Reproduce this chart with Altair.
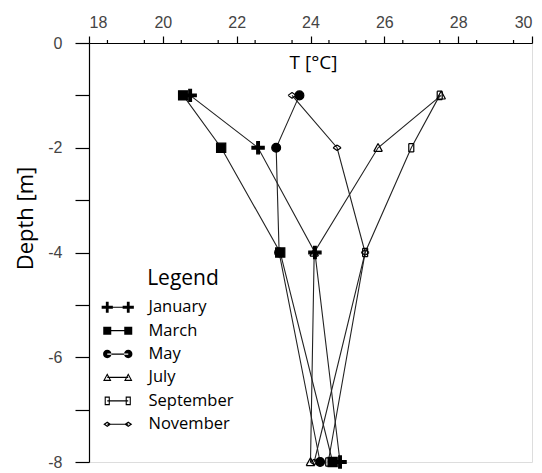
import altair as alt
import pandas as pd

# ---------------- data ----------------
months = ["January", "March", "May", "July", "September", "November"]
depths = [-1, -2, -4, -8]
jan = [20.74, 22.58, 24.12, 24.80]
mar = [20.55, 21.58, 23.18, 24.60]
may = [23.70, 23.07, 23.15, 24.26]
jul = [27.54, 25.83, 24.10, 24.00]
sep = [27.50, 26.73, 25.48, 24.48]
nov = [23.50, 24.72, 25.48, 24.10]

x_major = list(range(18, 31))
x_minor = [18.5, 19.5, 20.5, 21.5, 22.5, 23.5, 24.5, 25.5, 26.5, 27.5, 28.5, 29.5]
y_major = [0, -1, -2, -3, -4, -5, -6, -7, -8]

rows = []
for m, vals in zip(months, [jan, mar, may, jul, sep, nov]):
    for d, t in zip(depths, vals):
        rows.append({"month": m, "depth": d, "temp": t})
df = pd.DataFrame(rows)
minor_df = pd.DataFrame({"v": x_minor})


# ---------------- marker glyph paths ----------------
def f(v):
    return f"{v:.3f}"


def closed(pts):
    return "M" + "L".join(f"{f(x)},{f(y)}" for x, y in pts) + "Z"


def segs(pts):
    out = []
    n = len(pts)
    for i in range(n):
        a, b = pts[i], pts[(i + 1) % n]
        out.append(f"M{f(a[0])},{f(a[1])}L{f(b[0])},{f(b[1])}")
    return "".join(out)


def shrink(pts, cx, cy, k):
    return [(cx + (x - cx) * k, cy + (y - cy) * k) for x, y in pts]


def ring(pts, cx, cy, k):
    # outer contour + reversed inner contour -> hollow shape with fill only
    inner = shrink(pts, cx, cy, k)[::-1]
    return closed(pts) + closed(inner)


def plus_pts(cx, h, t):
    pts = [(-h, -t), (-t, -t), (-t, -h), (t, -h), (t, -t), (h, -t), (h, t), (t, t), (t, h), (-t, h), (-t, t), (-h, t)]
    return [(cx + x, y) for x, y in pts]


def circle(cx, h):
    return (f"M{f(cx - h)},0A{f(h)},{f(h)},0,1,0,{f(cx + h)},0"
            f"A{f(h)},{f(h)},0,1,0,{f(cx - h)},0Z")


def tri_pts(cx, h):
    return [(cx, -h), (cx + h, h * 0.85), (cx - h, h * 0.85)]


def rect_pts(cx, h):
    w = h * 0.6
    return [(cx - w, -h), (cx + w, -h), (cx + w, h), (cx - w, h)]


def dia_pts(cx, h):
    return [(cx - h, 0), (cx, -h * 0.7), (cx + h, 0), (cx, h * 0.7)]


def plot_marker(kind):
    # unit box (-1..1), open shapes drawn by stroke only
    if kind == "plus":
        return closed(plus_pts(0, 1.0, 0.22))
    if kind == "square":
        return closed([(-0.75, -0.75), (0.75, -0.75), (0.75, 0.75), (-0.75, 0.75)])
    if kind == "circle":
        return circle(0, 0.72)
    if kind == "triangle":
        return segs(tri_pts(0, 0.7))
    if kind == "rect":
        return segs(rect_pts(0, 0.68))
    return segs(dia_pts(0, 0.65))


def legend_marker(kind, cx):
    # pixel units, filled polygons only (hollow via inner contour)
    if kind == "plus":
        return closed(plus_pts(cx, 5.6, 1.4))
    if kind == "square":
        h = 4.0
        return closed([(cx - h, -h), (cx + h, -h), (cx + h, h), (cx - h, h)])
    if kind == "circle":
        return circle(cx, 4.2)
    if kind == "triangle":
        h = 4.2
        return ring(tri_pts(cx, h), cx, 0.233 * h, 0.55)
    if kind == "rect":
        h = 4.3
        w = h * 0.6
        t = 1.1
        outer = [(cx - w, -h), (cx + w, -h), (cx + w, h), (cx - w, h)]
        inner = [(cx - w + t, -h + t), (cx + w - t, -h + t), (cx + w - t, h - t), (cx - w + t, h - t)][::-1]
        return closed(outer) + closed(inner)
    h = 4.0
    return ring(dia_pts(cx, h), cx, 0, 0.45)


kinds = ["plus", "square", "circle", "triangle", "rect", "diamond"]
plot_paths = [plot_marker(k) for k in kinds]

SYM_CENTER = 142.0  # where Vega puts the legend symbol centre (abs px)
GLYPH_CENTER = 119.5


def legend_glyph(kind):
    c = GLYPH_CENTER - SYM_CENTER
    l, r = c - 10.5, c + 10.5
    line = closed([(l, -0.6), (r, -0.6), (r, 0.6), (l, 0.6)])
    return line + legend_marker(kind, l) + legend_marker(kind, r)


legend_paths = [legend_glyph(k) for k in kinds]

# ---------------- chart ----------------
FONT_TICK = "Liberation Sans"
FONT_TXT = "Open Sans"

x_scale = alt.Scale(domain=[18, 30], nice=False, zero=False)
y_scale = alt.Scale(domain=[-8, 0], nice=False, zero=False)

x_axis = alt.Axis(
    orient="top", values=x_major, tickSize=7, tickColor="black", tickWidth=1.2,
    domainColor="black", domainWidth=1.2, grid=False,
    labelExpr="datum.value % 2 == 0 ? datum.label : ''",
    labelFont=FONT_TICK, labelFontSize=16, labelColor="#444", labelPadding=6,
    title="T [°C]", titleFont=FONT_TXT, titleFontSize=19, titleFontWeight="normal",
    titleColor="black", titleX=224, titleY=19, titleBaseline="middle",
)
y_axis = alt.Axis(
    values=y_major, tickSize=14, tickColor="black", tickWidth=1.2,
    domainColor="black", domainWidth=1.2, grid=False,
    labelExpr="datum.value % 2 == 0 ? (datum.value < 0 ? '-' + abs(datum.value) : '' + datum.value) : ''",
    labelFont=FONT_TICK, labelFontSize=16, labelColor="#444", labelPadding=13,
    title="Depth [m]", titleFont=FONT_TXT, titleFontSize=22, titleFontWeight="normal",
    titleColor="black", titleX=-64, titleY=175, titleAngle=270,
    titleAlign="center", titleBaseline="middle",
)

base = alt.Chart(df)

lines = base.mark_line(color="#222", strokeWidth=1.1).encode(
    x=alt.X("temp:Q", scale=x_scale, axis=x_axis),
    y=alt.Y("depth:Q", scale=y_scale, axis=y_axis),
    detail="month:N",
    order="depth:Q",
)

points = base.mark_point(filled=True, fill="black", stroke="black", strokeWidth=1.2,
                         size=150, opacity=1).encode(
    x=alt.X("temp:Q", scale=x_scale),
    y=alt.Y("depth:Q", scale=y_scale),
    shape=alt.Shape("month:N", scale=alt.Scale(domain=months, range=plot_paths), legend=None),
)

legend_layer = base.transform_filter("false").mark_point(
    filled=True, fill="black", opacity=1, size=4
).encode(
    x=alt.X("temp:Q", scale=x_scale),
    y=alt.Y("depth:Q", scale=y_scale),
    shape=alt.Shape(
        "month:N",
        scale=alt.Scale(domain=months, range=legend_paths),
        legend=alt.Legend(
            title="Legend", orient="none", legendX=43, legendY=225,
            titleFont=FONT_TXT, titleFontSize=21, titleFontWeight="normal",
            titleColor="black", titleAnchor="middle", titlePadding=10,
            labelFont=FONT_TXT, labelFontSize=16.5, labelColor="black",
            labelOffset=0, symbolSize=4, rowPadding=6.4, padding=0,
            symbolFillColor="black", symbolStrokeWidth=0,
        ),
    ),
)

minor_ticks = alt.Chart(minor_df).mark_rule(color="black", strokeWidth=1.2).encode(
    x=alt.X("v:Q", scale=x_scale),
    y=alt.value(-3),
    y2=alt.value(0),
)

chart = alt.layer(lines, points, legend_layer, minor_ticks).resolve_scale(
    shape="independent"
).properties(
    width=443, height=419, autosize="none",
    padding={"left": 89, "top": 43, "right": 10, "bottom": 11},
).configure_view(stroke=None).configure(background="white")

chart.save("out.html", embed_options={"renderer": "svg", "actions": False})
